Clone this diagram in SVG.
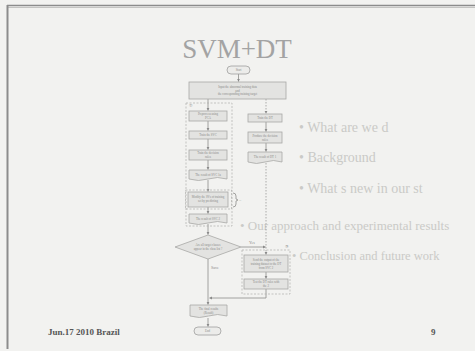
<svg xmlns="http://www.w3.org/2000/svg" width="475" height="351" viewBox="0 0 475 351">
<defs>
<marker id="ah" viewBox="0 0 6 6" refX="5.5" refY="3" markerWidth="4" markerHeight="4" orient="auto"><path d="M0,0L6,3L0,6z" fill="#8a8a8a"/></marker>
<style>
.bg{fill:#f2f2f0}
.frame{stroke:#8c8c8c;fill:none}
.title{font-family:"Liberation Serif",serif;font-size:27px;fill:#a3a3a3;text-anchor:middle}
.ghost{font-family:"Liberation Serif",serif;font-size:14px;fill:#cacac7}
.foot{font-family:"Liberation Serif",serif;font-size:9px;fill:#555;font-weight:bold}
.box{fill:#e3e3e1;stroke:#a8a8a6;stroke-width:0.8}
.term{fill:#ececea;stroke:#a0a09e;stroke-width:0.8}
.grp{fill:none;stroke:#b0b0ae;stroke-width:0.7;stroke-dasharray:2,1.5}
.t{font-family:"Liberation Serif",serif;font-size:3px;fill:#8a8a88;text-anchor:middle}
.lbl{font-family:"Liberation Serif",serif;font-size:4px;fill:#8a8a88}
.ln{stroke:#8e8e8c;stroke-width:0.8;fill:none}
.dl{stroke:#9a9a98;stroke-width:0.8;fill:none;stroke-dasharray:1.5,1.5}
</style>
</defs>
<rect class="bg" x="0" y="0" width="475" height="351"/>
<path class="frame" d="M7,5.5H475" stroke-width="1.6"/>
<path d="M7,7.5H475" stroke="#c4c4c2" stroke-width="1"/>
<path class="frame" d="M7.5,5V349" stroke-width="2"/>

<g id="ghost-list">
<text class="ghost" x="299" y="132">•  What are we d</text>
<text class="ghost" x="299" y="162">•  Background</text>
<text class="ghost" x="299" y="193">•  What s new in our st</text>
<text class="ghost" x="240" y="230" style="font-size:13px">•  Our approach and experimental results</text>
<text class="ghost" x="292" y="260" style="font-size:12.5px">•  Conclusion and future work</text>
</g>

<text class="title" x="237" y="58">SVM+DT</text>

<g id="connectors">
<path class="ln" d="M238.5,74V81.5" marker-end="url(#ah)"/>
<path class="ln" d="M208,99V110.5" marker-end="url(#ah)"/>
<path class="dl" d="M266,99V113.5" marker-end="url(#ah)"/>
<path class="ln" d="M208,121V130.5" marker-end="url(#ah)"/>
<path class="ln" d="M208,139V149.5" marker-end="url(#ah)"/>
<path class="ln" d="M208,160V169.5" marker-end="url(#ah)"/>
<path class="ln" d="M208,180V191.5" marker-end="url(#ah)"/>
<path class="ln" d="M208,207V213.5" marker-end="url(#ah)"/>
<path class="ln" d="M208,224V234.5" marker-end="url(#ah)"/>
<path class="ln" d="M266,122V131.5" marker-end="url(#ah)"/>
<path class="ln" d="M266,143V151.5" marker-end="url(#ah)"/>
<path class="dl" d="M266,163V254.5" marker-end="url(#ah)"/>
<path class="ln" d="M241,247H265.5" marker-end="url(#ah)"/>
<path class="ln" d="M266,272V278.5" marker-end="url(#ah)"/>
<path class="ln" d="M266,289V298H209.5" marker-end="url(#ah)"/>
<path class="ln" d="M208,259V304.5" marker-end="url(#ah)"/>
<path class="ln" d="M208,318V326.5" marker-end="url(#ah)"/>
<text class="lbl" x="249" y="244">Yes</text>
<text class="lbl" x="211" y="269">Save</text>
</g>

<g id="group1">
<rect class="grp" x="186" y="103" width="46" height="123"/>
<text class="lbl" x="189" y="107">①</text>
</g>
<g id="group3">
<rect class="grp" x="242" y="250" width="48" height="44"/>
<text class="lbl" x="285" y="248">③</text>
</g>

<g id="start"><rect class="term" x="227" y="66" width="23" height="8" rx="4"/><text class="t" x="238.5" y="71">Start</text></g>
<g id="input"><rect class="box" x="189" y="82" width="97" height="17"/><text class="t" x="237.5" y="88">Input the abnormal training data</text><text class="t" x="237.5" y="91.5">and</text><text class="t" x="237.5" y="95">the corresponding training target</text></g>

<g id="pca"><rect class="box" x="189" y="111" width="38" height="10"/><text class="t" x="208" y="115">Preprocess using</text><text class="t" x="208" y="119">PCA</text></g>
<g id="svc"><rect class="box" x="189" y="131" width="38" height="8"/><text class="t" x="208" y="136">Train the SVC</text></g>
<g id="rules"><rect class="box" x="189" y="150" width="38" height="10"/><text class="t" x="208" y="154">Train the decision</text><text class="t" x="208" y="158">rules</text></g>
<g id="res1a"><path class="box" d="M189,170H227V179Q217.5,176 208,179T189,179Z"/><text class="t" x="208" y="175.5">The result of SVC 1a</text></g>
<g id="modify"><rect class="grp" x="185.5" y="190" width="46" height="19"/><rect class="box" x="188" y="192" width="40" height="15"/><text class="t" x="208" y="198">Modify the SVs of training</text><text class="t" x="208" y="202">set by predicting</text><path class="ln" d="M233,193Q236,193 236,196V199L238,200L236,201V204Q236,207 233,207" stroke-width="0.5"/><text class="lbl" x="239" y="201" style="font-size:3px">...</text></g>
<g id="res2"><path class="box" d="M189,214H227V223Q217.5,220 208,223T189,223Z"/><text class="t" x="208" y="219.5">The result of SVC 2</text></g>

<g id="dt"><rect class="box" x="248" y="114" width="34" height="8"/><text class="t" x="265" y="119">Train the DT</text></g>
<g id="produce"><rect class="box" x="248" y="132" width="34" height="11"/><text class="t" x="265" y="136.5">Produce the decision</text><text class="t" x="265" y="140.5">rules</text></g>
<g id="dtres"><path class="box" d="M248,152H282V162Q273.5,159 265,162T248,162Z"/><text class="t" x="265" y="158">The result of DT 1</text></g>

<g id="decision"><path class="box" d="M208,235L241,247L208,259L175,247Z"/><text class="t" x="208" y="246">Are all target classes</text><text class="t" x="208" y="250">appear in the class list ?</text></g>

<g id="send"><rect class="box" x="244" y="255" width="44" height="17"/><text class="t" x="266" y="260.5">Send the output of the</text><text class="t" x="266" y="264.5">training dataset to the DT</text><text class="t" x="266" y="268.5">from SVC 2</text></g>
<g id="test"><rect class="box" x="244" y="279" width="44" height="10"/><text class="t" x="266" y="283">Test the DT rules with</text><text class="t" x="266" y="287">the 2</text></g>

<g id="final"><path class="box" d="M190,305H227V316Q217.5,313 208.5,316T190,316Z"/><text class="t" x="208.5" y="309.5">The final results</text><text class="t" x="208.5" y="313.5">(Result)</text></g>
<g id="end"><rect class="term" x="194" y="327" width="27" height="8" rx="4"/><text class="t" x="207.5" y="332">End</text></g>

<text class="foot" x="48" y="335">Jun.17 2010 Brazil</text>
<text class="foot" x="431" y="335">9</text>
</svg>
